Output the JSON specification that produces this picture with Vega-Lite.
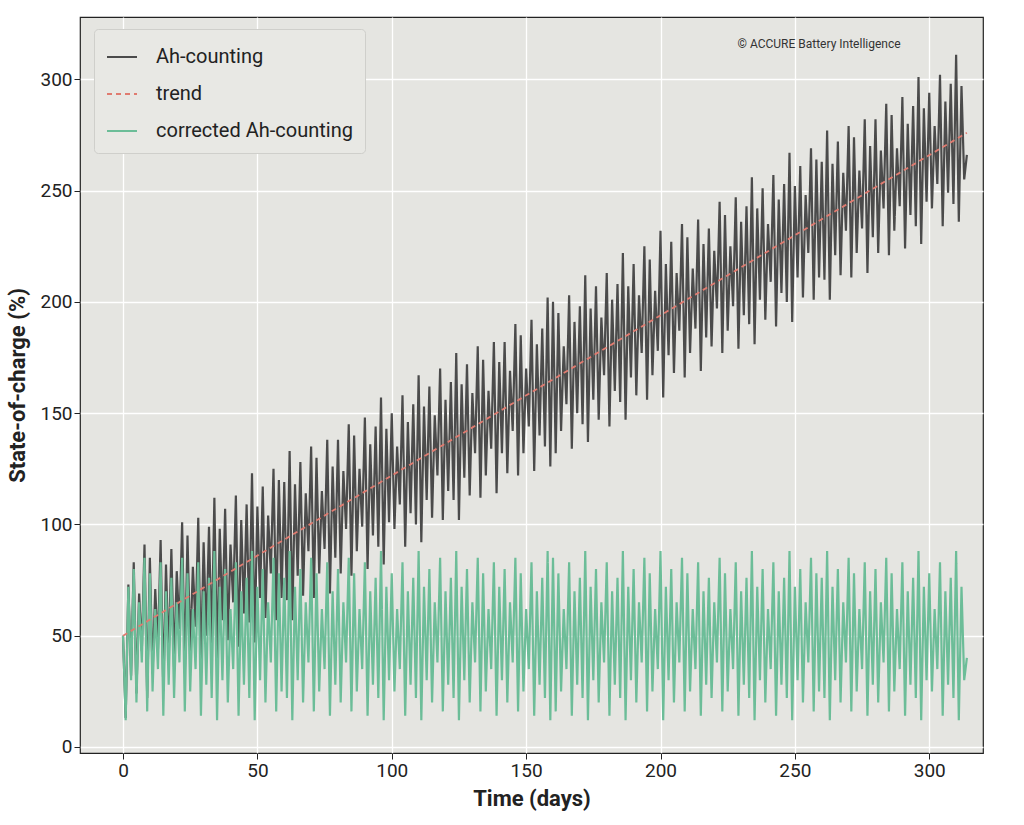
{
  "$schema": "https://vega.github.io/schema/vega-lite/v6.json",
  "width": 903,
  "height": 736,
  "autosize": "none",
  "padding": {"left": 80, "top": 17, "right": 41, "bottom": 72},
  "background": "white",
  "config": {
    "font": "Roboto",
    "view": {"fill": "#e5e5e1", "stroke": "#222", "strokeWidth": 1.2},
    "axis": {"grid": true, "gridColor": "white", "gridWidth": 1.3, "domain": false, "tickColor": "#222", "tickSize": 6, "labelFontSize": 19, "labelColor": "#222", "titleFontSize": 22, "titleFontWeight": "bold", "titleColor": "#222"}
  },
  "datasets": {
    "soc": [
      {"t":0,"Ah-counting":50,"corrected Ah-counting":50},{"t":1,"Ah-counting":13,"corrected Ah-counting":12},{"t":2,"Ah-counting":73,"corrected Ah-counting":72},{"t":3,"Ah-counting":32,"corrected Ah-counting":30},{"t":4,"Ah-counting":83,"corrected Ah-counting":80},{"t":5,"Ah-counting":24,"corrected Ah-counting":20},{"t":6,"Ah-counting":69,"corrected Ah-counting":65},{"t":7,"Ah-counting":43,"corrected Ah-counting":38},{"t":8,"Ah-counting":91,"corrected Ah-counting":85},{"t":9,"Ah-counting":22,"corrected Ah-counting":16},{"t":10,"Ah-counting":85,"corrected Ah-counting":78},{"t":11,"Ah-counting":33,"corrected Ah-counting":25},{"t":12,"Ah-counting":71,"corrected Ah-counting":62},{"t":13,"Ah-counting":44,"corrected Ah-counting":35},{"t":14,"Ah-counting":93,"corrected Ah-counting":83},{"t":15,"Ah-counting":25,"corrected Ah-counting":14},{"t":16,"Ah-counting":82,"corrected Ah-counting":70},{"t":17,"Ah-counting":40,"corrected Ah-counting":28},{"t":18,"Ah-counting":89,"corrected Ah-counting":76},{"t":19,"Ah-counting":36,"corrected Ah-counting":22},
      {"t":20,"Ah-counting":79,"corrected Ah-counting":65},{"t":21,"Ah-counting":53,"corrected Ah-counting":38},{"t":22,"Ah-counting":101,"corrected Ah-counting":85},{"t":23,"Ah-counting":33,"corrected Ah-counting":16},{"t":24,"Ah-counting":95,"corrected Ah-counting":78},{"t":25,"Ah-counting":43,"corrected Ah-counting":25},{"t":26,"Ah-counting":81,"corrected Ah-counting":62},{"t":27,"Ah-counting":54,"corrected Ah-counting":35},{"t":28,"Ah-counting":103,"corrected Ah-counting":83},{"t":29,"Ah-counting":35,"corrected Ah-counting":14},{"t":30,"Ah-counting":92,"corrected Ah-counting":70},{"t":31,"Ah-counting":50,"corrected Ah-counting":28},{"t":32,"Ah-counting":99,"corrected Ah-counting":76},{"t":33,"Ah-counting":46,"corrected Ah-counting":22},{"t":34,"Ah-counting":112,"corrected Ah-counting":88},{"t":35,"Ah-counting":37,"corrected Ah-counting":12},{"t":36,"Ah-counting":98,"corrected Ah-counting":72},{"t":37,"Ah-counting":57,"corrected Ah-counting":30},{"t":38,"Ah-counting":107,"corrected Ah-counting":80},{"t":39,"Ah-counting":48,"corrected Ah-counting":20},
      {"t":40,"Ah-counting":91,"corrected Ah-counting":62},{"t":41,"Ah-counting":65,"corrected Ah-counting":35},{"t":42,"Ah-counting":113,"corrected Ah-counting":83},{"t":43,"Ah-counting":45,"corrected Ah-counting":14},{"t":44,"Ah-counting":102,"corrected Ah-counting":70},{"t":45,"Ah-counting":60,"corrected Ah-counting":28},{"t":46,"Ah-counting":109,"corrected Ah-counting":76},{"t":47,"Ah-counting":56,"corrected Ah-counting":22},{"t":48,"Ah-counting":123,"corrected Ah-counting":88},{"t":49,"Ah-counting":47,"corrected Ah-counting":12},{"t":50,"Ah-counting":108,"corrected Ah-counting":72},{"t":51,"Ah-counting":67,"corrected Ah-counting":30},{"t":52,"Ah-counting":117,"corrected Ah-counting":80},{"t":53,"Ah-counting":58,"corrected Ah-counting":20},{"t":54,"Ah-counting":104,"corrected Ah-counting":65},{"t":55,"Ah-counting":78,"corrected Ah-counting":38},{"t":56,"Ah-counting":125,"corrected Ah-counting":85},{"t":57,"Ah-counting":57,"corrected Ah-counting":16},{"t":58,"Ah-counting":120,"corrected Ah-counting":78},{"t":59,"Ah-counting":67,"corrected Ah-counting":25},
      {"t":60,"Ah-counting":119,"corrected Ah-counting":76},{"t":61,"Ah-counting":66,"corrected Ah-counting":22},{"t":62,"Ah-counting":133,"corrected Ah-counting":88},{"t":63,"Ah-counting":57,"corrected Ah-counting":12},{"t":64,"Ah-counting":118,"corrected Ah-counting":72},{"t":65,"Ah-counting":77,"corrected Ah-counting":30},{"t":66,"Ah-counting":128,"corrected Ah-counting":80},{"t":67,"Ah-counting":68,"corrected Ah-counting":20},{"t":68,"Ah-counting":114,"corrected Ah-counting":65},{"t":69,"Ah-counting":88,"corrected Ah-counting":38},{"t":70,"Ah-counting":135,"corrected Ah-counting":85},{"t":71,"Ah-counting":67,"corrected Ah-counting":16},{"t":72,"Ah-counting":130,"corrected Ah-counting":78},{"t":73,"Ah-counting":78,"corrected Ah-counting":25},{"t":74,"Ah-counting":115,"corrected Ah-counting":62},{"t":75,"Ah-counting":89,"corrected Ah-counting":35},{"t":76,"Ah-counting":138,"corrected Ah-counting":83},{"t":77,"Ah-counting":69,"corrected Ah-counting":14},{"t":78,"Ah-counting":126,"corrected Ah-counting":70},{"t":79,"Ah-counting":85,"corrected Ah-counting":28},
      {"t":80,"Ah-counting":138,"corrected Ah-counting":80},{"t":81,"Ah-counting":78,"corrected Ah-counting":20},{"t":82,"Ah-counting":124,"corrected Ah-counting":65},{"t":83,"Ah-counting":98,"corrected Ah-counting":38},{"t":84,"Ah-counting":145,"corrected Ah-counting":85},{"t":85,"Ah-counting":77,"corrected Ah-counting":16},{"t":86,"Ah-counting":140,"corrected Ah-counting":78},{"t":87,"Ah-counting":88,"corrected Ah-counting":25},{"t":88,"Ah-counting":125,"corrected Ah-counting":62},{"t":89,"Ah-counting":99,"corrected Ah-counting":35},{"t":90,"Ah-counting":148,"corrected Ah-counting":83},{"t":91,"Ah-counting":80,"corrected Ah-counting":14},{"t":92,"Ah-counting":136,"corrected Ah-counting":70},{"t":93,"Ah-counting":95,"corrected Ah-counting":28},{"t":94,"Ah-counting":144,"corrected Ah-counting":76},{"t":95,"Ah-counting":90,"corrected Ah-counting":22},{"t":96,"Ah-counting":157,"corrected Ah-counting":88},{"t":97,"Ah-counting":82,"corrected Ah-counting":12},{"t":98,"Ah-counting":143,"corrected Ah-counting":72},{"t":99,"Ah-counting":101,"corrected Ah-counting":30},
      {"t":100,"Ah-counting":150,"corrected Ah-counting":78},{"t":101,"Ah-counting":98,"corrected Ah-counting":25},{"t":102,"Ah-counting":135,"corrected Ah-counting":62},{"t":103,"Ah-counting":109,"corrected Ah-counting":35},{"t":104,"Ah-counting":158,"corrected Ah-counting":83},{"t":105,"Ah-counting":90,"corrected Ah-counting":14},{"t":106,"Ah-counting":146,"corrected Ah-counting":70},{"t":107,"Ah-counting":105,"corrected Ah-counting":28},{"t":108,"Ah-counting":154,"corrected Ah-counting":76},{"t":109,"Ah-counting":100,"corrected Ah-counting":22},{"t":110,"Ah-counting":167,"corrected Ah-counting":88},{"t":111,"Ah-counting":92,"corrected Ah-counting":12},{"t":112,"Ah-counting":153,"corrected Ah-counting":72},{"t":113,"Ah-counting":111,"corrected Ah-counting":30},{"t":114,"Ah-counting":162,"corrected Ah-counting":80},{"t":115,"Ah-counting":103,"corrected Ah-counting":20},{"t":116,"Ah-counting":149,"corrected Ah-counting":65},{"t":117,"Ah-counting":122,"corrected Ah-counting":38},{"t":118,"Ah-counting":170,"corrected Ah-counting":85},{"t":119,"Ah-counting":102,"corrected Ah-counting":16},
      {"t":120,"Ah-counting":156,"corrected Ah-counting":70},{"t":121,"Ah-counting":115,"corrected Ah-counting":28},{"t":122,"Ah-counting":164,"corrected Ah-counting":76},{"t":123,"Ah-counting":111,"corrected Ah-counting":22},{"t":124,"Ah-counting":177,"corrected Ah-counting":88},{"t":125,"Ah-counting":102,"corrected Ah-counting":12},{"t":126,"Ah-counting":163,"corrected Ah-counting":72},{"t":127,"Ah-counting":121,"corrected Ah-counting":30},{"t":128,"Ah-counting":172,"corrected Ah-counting":80},{"t":129,"Ah-counting":113,"corrected Ah-counting":20},{"t":130,"Ah-counting":159,"corrected Ah-counting":65},{"t":131,"Ah-counting":132,"corrected Ah-counting":38},{"t":132,"Ah-counting":180,"corrected Ah-counting":85},{"t":133,"Ah-counting":112,"corrected Ah-counting":16},{"t":134,"Ah-counting":174,"corrected Ah-counting":78},{"t":135,"Ah-counting":122,"corrected Ah-counting":25},{"t":136,"Ah-counting":160,"corrected Ah-counting":62},{"t":137,"Ah-counting":134,"corrected Ah-counting":35},{"t":138,"Ah-counting":182,"corrected Ah-counting":83},{"t":139,"Ah-counting":114,"corrected Ah-counting":14},
      {"t":140,"Ah-counting":173,"corrected Ah-counting":72},{"t":141,"Ah-counting":132,"corrected Ah-counting":30},{"t":142,"Ah-counting":182,"corrected Ah-counting":80},{"t":143,"Ah-counting":123,"corrected Ah-counting":20},{"t":144,"Ah-counting":169,"corrected Ah-counting":65},{"t":145,"Ah-counting":142,"corrected Ah-counting":38},{"t":146,"Ah-counting":190,"corrected Ah-counting":85},{"t":147,"Ah-counting":122,"corrected Ah-counting":16},{"t":148,"Ah-counting":185,"corrected Ah-counting":78},{"t":149,"Ah-counting":132,"corrected Ah-counting":25},{"t":150,"Ah-counting":170,"corrected Ah-counting":62},{"t":151,"Ah-counting":144,"corrected Ah-counting":35},{"t":152,"Ah-counting":192,"corrected Ah-counting":83},{"t":153,"Ah-counting":124,"corrected Ah-counting":14},{"t":154,"Ah-counting":181,"corrected Ah-counting":70},{"t":155,"Ah-counting":140,"corrected Ah-counting":28},{"t":156,"Ah-counting":188,"corrected Ah-counting":76},{"t":157,"Ah-counting":135,"corrected Ah-counting":22},{"t":158,"Ah-counting":202,"corrected Ah-counting":88},{"t":159,"Ah-counting":126,"corrected Ah-counting":12},
      {"t":160,"Ah-counting":200,"corrected Ah-counting":85},{"t":161,"Ah-counting":132,"corrected Ah-counting":16},{"t":162,"Ah-counting":195,"corrected Ah-counting":78},{"t":163,"Ah-counting":142,"corrected Ah-counting":25},{"t":164,"Ah-counting":180,"corrected Ah-counting":62},{"t":165,"Ah-counting":154,"corrected Ah-counting":35},{"t":166,"Ah-counting":203,"corrected Ah-counting":83},{"t":167,"Ah-counting":134,"corrected Ah-counting":14},{"t":168,"Ah-counting":191,"corrected Ah-counting":70},{"t":169,"Ah-counting":150,"corrected Ah-counting":28},{"t":170,"Ah-counting":198,"corrected Ah-counting":76},{"t":171,"Ah-counting":145,"corrected Ah-counting":22},{"t":172,"Ah-counting":212,"corrected Ah-counting":88},{"t":173,"Ah-counting":137,"corrected Ah-counting":12},{"t":174,"Ah-counting":197,"corrected Ah-counting":72},{"t":175,"Ah-counting":156,"corrected Ah-counting":30},{"t":176,"Ah-counting":207,"corrected Ah-counting":80},{"t":177,"Ah-counting":147,"corrected Ah-counting":20},{"t":178,"Ah-counting":193,"corrected Ah-counting":65},{"t":179,"Ah-counting":167,"corrected Ah-counting":38},
      {"t":180,"Ah-counting":213,"corrected Ah-counting":83},{"t":181,"Ah-counting":144,"corrected Ah-counting":14},{"t":182,"Ah-counting":201,"corrected Ah-counting":70},{"t":183,"Ah-counting":160,"corrected Ah-counting":28},{"t":184,"Ah-counting":208,"corrected Ah-counting":76},{"t":185,"Ah-counting":155,"corrected Ah-counting":22},{"t":186,"Ah-counting":222,"corrected Ah-counting":88},{"t":187,"Ah-counting":147,"corrected Ah-counting":12},{"t":188,"Ah-counting":207,"corrected Ah-counting":72},{"t":189,"Ah-counting":166,"corrected Ah-counting":30},{"t":190,"Ah-counting":217,"corrected Ah-counting":80},{"t":191,"Ah-counting":158,"corrected Ah-counting":20},{"t":192,"Ah-counting":203,"corrected Ah-counting":65},{"t":193,"Ah-counting":177,"corrected Ah-counting":38},{"t":194,"Ah-counting":225,"corrected Ah-counting":85},{"t":195,"Ah-counting":156,"corrected Ah-counting":16},{"t":196,"Ah-counting":219,"corrected Ah-counting":78},{"t":197,"Ah-counting":167,"corrected Ah-counting":25},{"t":198,"Ah-counting":205,"corrected Ah-counting":62},{"t":199,"Ah-counting":178,"corrected Ah-counting":35},
      {"t":200,"Ah-counting":232,"corrected Ah-counting":88},{"t":201,"Ah-counting":157,"corrected Ah-counting":12},{"t":202,"Ah-counting":217,"corrected Ah-counting":72},{"t":203,"Ah-counting":176,"corrected Ah-counting":30},{"t":204,"Ah-counting":227,"corrected Ah-counting":80},{"t":205,"Ah-counting":168,"corrected Ah-counting":20},{"t":206,"Ah-counting":213,"corrected Ah-counting":65},{"t":207,"Ah-counting":187,"corrected Ah-counting":38},{"t":208,"Ah-counting":235,"corrected Ah-counting":85},{"t":209,"Ah-counting":166,"corrected Ah-counting":16},{"t":210,"Ah-counting":229,"corrected Ah-counting":78},{"t":211,"Ah-counting":177,"corrected Ah-counting":25},{"t":212,"Ah-counting":215,"corrected Ah-counting":62},{"t":213,"Ah-counting":188,"corrected Ah-counting":35},{"t":214,"Ah-counting":237,"corrected Ah-counting":83},{"t":215,"Ah-counting":169,"corrected Ah-counting":14},{"t":216,"Ah-counting":226,"corrected Ah-counting":70},{"t":217,"Ah-counting":184,"corrected Ah-counting":28},{"t":218,"Ah-counting":233,"corrected Ah-counting":76},{"t":219,"Ah-counting":180,"corrected Ah-counting":22},
      {"t":220,"Ah-counting":223,"corrected Ah-counting":65},{"t":221,"Ah-counting":197,"corrected Ah-counting":38},{"t":222,"Ah-counting":245,"corrected Ah-counting":85},{"t":223,"Ah-counting":177,"corrected Ah-counting":16},{"t":224,"Ah-counting":239,"corrected Ah-counting":78},{"t":225,"Ah-counting":187,"corrected Ah-counting":25},{"t":226,"Ah-counting":225,"corrected Ah-counting":62},{"t":227,"Ah-counting":198,"corrected Ah-counting":35},{"t":228,"Ah-counting":247,"corrected Ah-counting":83},{"t":229,"Ah-counting":179,"corrected Ah-counting":14},{"t":230,"Ah-counting":236,"corrected Ah-counting":70},{"t":231,"Ah-counting":194,"corrected Ah-counting":28},{"t":232,"Ah-counting":243,"corrected Ah-counting":76},{"t":233,"Ah-counting":190,"corrected Ah-counting":22},{"t":234,"Ah-counting":256,"corrected Ah-counting":88},{"t":235,"Ah-counting":181,"corrected Ah-counting":12},{"t":236,"Ah-counting":242,"corrected Ah-counting":72},{"t":237,"Ah-counting":201,"corrected Ah-counting":30},{"t":238,"Ah-counting":251,"corrected Ah-counting":80},{"t":239,"Ah-counting":192,"corrected Ah-counting":20},
      {"t":240,"Ah-counting":235,"corrected Ah-counting":62},{"t":241,"Ah-counting":209,"corrected Ah-counting":35},{"t":242,"Ah-counting":257,"corrected Ah-counting":83},{"t":243,"Ah-counting":189,"corrected Ah-counting":14},{"t":244,"Ah-counting":246,"corrected Ah-counting":70},{"t":245,"Ah-counting":204,"corrected Ah-counting":28},{"t":246,"Ah-counting":253,"corrected Ah-counting":76},{"t":247,"Ah-counting":200,"corrected Ah-counting":22},{"t":248,"Ah-counting":267,"corrected Ah-counting":88},{"t":249,"Ah-counting":191,"corrected Ah-counting":12},{"t":250,"Ah-counting":252,"corrected Ah-counting":72},{"t":251,"Ah-counting":211,"corrected Ah-counting":30},{"t":252,"Ah-counting":261,"corrected Ah-counting":80},{"t":253,"Ah-counting":202,"corrected Ah-counting":20},{"t":254,"Ah-counting":248,"corrected Ah-counting":65},{"t":255,"Ah-counting":222,"corrected Ah-counting":38},{"t":256,"Ah-counting":269,"corrected Ah-counting":85},{"t":257,"Ah-counting":201,"corrected Ah-counting":16},{"t":258,"Ah-counting":264,"corrected Ah-counting":78},{"t":259,"Ah-counting":211,"corrected Ah-counting":25},
      {"t":260,"Ah-counting":263,"corrected Ah-counting":76},{"t":261,"Ah-counting":210,"corrected Ah-counting":22},{"t":262,"Ah-counting":277,"corrected Ah-counting":88},{"t":263,"Ah-counting":201,"corrected Ah-counting":12},{"t":264,"Ah-counting":262,"corrected Ah-counting":72},{"t":265,"Ah-counting":221,"corrected Ah-counting":30},{"t":266,"Ah-counting":272,"corrected Ah-counting":80},{"t":267,"Ah-counting":212,"corrected Ah-counting":20},{"t":268,"Ah-counting":258,"corrected Ah-counting":65},{"t":269,"Ah-counting":232,"corrected Ah-counting":38},{"t":270,"Ah-counting":279,"corrected Ah-counting":85},{"t":271,"Ah-counting":211,"corrected Ah-counting":16},{"t":272,"Ah-counting":274,"corrected Ah-counting":78},{"t":273,"Ah-counting":222,"corrected Ah-counting":25},{"t":274,"Ah-counting":259,"corrected Ah-counting":62},{"t":275,"Ah-counting":233,"corrected Ah-counting":35},{"t":276,"Ah-counting":282,"corrected Ah-counting":83},{"t":277,"Ah-counting":213,"corrected Ah-counting":14},{"t":278,"Ah-counting":270,"corrected Ah-counting":70},{"t":279,"Ah-counting":229,"corrected Ah-counting":28},
      {"t":280,"Ah-counting":282,"corrected Ah-counting":80},{"t":281,"Ah-counting":222,"corrected Ah-counting":20},{"t":282,"Ah-counting":268,"corrected Ah-counting":65},{"t":283,"Ah-counting":242,"corrected Ah-counting":38},{"t":284,"Ah-counting":289,"corrected Ah-counting":85},{"t":285,"Ah-counting":221,"corrected Ah-counting":16},{"t":286,"Ah-counting":284,"corrected Ah-counting":78},{"t":287,"Ah-counting":232,"corrected Ah-counting":25},{"t":288,"Ah-counting":269,"corrected Ah-counting":62},{"t":289,"Ah-counting":243,"corrected Ah-counting":35},{"t":290,"Ah-counting":292,"corrected Ah-counting":83},{"t":291,"Ah-counting":224,"corrected Ah-counting":14},{"t":292,"Ah-counting":280,"corrected Ah-counting":70},{"t":293,"Ah-counting":239,"corrected Ah-counting":28},{"t":294,"Ah-counting":288,"corrected Ah-counting":76},{"t":295,"Ah-counting":234,"corrected Ah-counting":22},{"t":296,"Ah-counting":301,"corrected Ah-counting":88},{"t":297,"Ah-counting":226,"corrected Ah-counting":12},{"t":298,"Ah-counting":287,"corrected Ah-counting":72},{"t":299,"Ah-counting":245,"corrected Ah-counting":30},
      {"t":300,"Ah-counting":294,"corrected Ah-counting":78},{"t":301,"Ah-counting":242,"corrected Ah-counting":25},{"t":302,"Ah-counting":279,"corrected Ah-counting":62},{"t":303,"Ah-counting":253,"corrected Ah-counting":35},{"t":304,"Ah-counting":302,"corrected Ah-counting":83},{"t":305,"Ah-counting":234,"corrected Ah-counting":14},{"t":306,"Ah-counting":290,"corrected Ah-counting":70},{"t":307,"Ah-counting":249,"corrected Ah-counting":28},{"t":308,"Ah-counting":298,"corrected Ah-counting":76},{"t":309,"Ah-counting":244,"corrected Ah-counting":22},{"t":310,"Ah-counting":311,"corrected Ah-counting":88},{"t":311,"Ah-counting":236,"corrected Ah-counting":12},{"t":312,"Ah-counting":297,"corrected Ah-counting":72},{"t":313,"Ah-counting":255,"corrected Ah-counting":30},{"t":314,"Ah-counting":266,"corrected Ah-counting":40}
    ],
    "trend": [
      {"t": 0, "series": "trend", "value": 50},
      {"t": 314, "series": "trend", "value": 276}
    ],
    "note": [
      {"t": 259, "value": 316, "label": "© ACCURE Battery Intelligence"}
    ]
  },
  "encoding": {
    "x": {"field": "t", "type": "quantitative", "title": "Time (days)", "scale": {"domain": [-16, 320], "nice": false, "zero": false}, "axis": {"values": [0, 50, 100, 150, 200, 250, 300], "titlePadding": 8}},
    "y": {"field": "value", "type": "quantitative", "title": "State-of-charge (%)", "scale": {"domain": [-2.7, 328], "nice": false, "zero": false}, "axis": {"values": [0, 50, 100, 150, 200, 250, 300], "titlePadding": 10}}
  },
  "layer": [
    {
      "data": {"name": "soc"},
      "transform": [{"fold": ["Ah-counting", "corrected Ah-counting"], "as": ["series", "value"]}],
      "mark": {"type": "line", "strokeWidth": 2.2},
      "encoding": {
        "detail": {"field": "series"},
        "color": {"field": "series", "type": "nominal", "title": null,
          "scale": {"domain": ["Ah-counting", "trend", "corrected Ah-counting"], "range": ["#4b4b4b", "#e07b70", "#6cbd98"]},
          "legend": {"orient": "none", "legendX": 14, "legendY": 12, "labelFontSize": 20, "labelLimit": 0, "labelColor": "#222", "symbolType": "stroke", "symbolSize": 900, "symbolStrokeWidth": 2, "rowPadding": 11, "padding": 12, "fillColor": "#e8e8e4", "strokeColor": "#cfcfcb", "cornerRadius": 4, "labelOffset": 18}},
        "strokeDash": {"field": "series", "type": "nominal", "title": null,
          "scale": {"domain": ["Ah-counting", "trend", "corrected Ah-counting"], "range": [[1, 0], [5, 4], [1, 0]]}}
      }
    },
    {
      "data": {"name": "trend"},
      "mark": {"type": "line", "strokeWidth": 1.8},
      "encoding": {
        "color": {"field": "series", "type": "nominal"},
        "strokeDash": {"field": "series", "type": "nominal"}
      }
    },
    {
      "data": {"name": "note"},
      "mark": {"type": "text", "fontSize": 12, "color": "#333"},
      "encoding": {"text": {"field": "label"}}
    }
  ]
}
